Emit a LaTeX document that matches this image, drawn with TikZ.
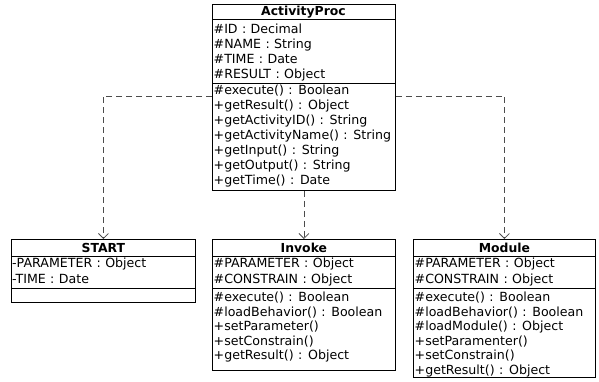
\documentclass[tikz,border=0pt]{standalone}
\usepackage{fontspec}
\setmainfont{DejaVu Sans}[WordSpace=1.1]
\usetikzlibrary{arrows.meta}
\begin{document}
\begin{tikzpicture}[x=1pt,y=-1pt,
  classbox/.style={draw, line width=0.8pt, inner sep=0pt, anchor=north west},
  sep/.style={line width=0.8pt},
  member/.style={anchor=base west, inner sep=0pt, font=\fontsize{12.6}{13}\selectfont},
  ctitle/.style={anchor=base, inner sep=0pt, font=\bfseries\fontsize{12.4}{13}\selectfont},
  dep/.style={draw=black!70, line width=0.8pt, dash pattern=on 6pt off 4pt,
              -{Straight Barb[length=5pt,width=10pt,line width=0.8pt]}}
]
\useasboundingbox (0,0) rectangle (599,382);

% ---------- ActivityProc ----------
\node[classbox, minimum width=183pt, minimum height=186pt] (ap) at (212,4) {};
\draw[sep] (ap.west |- 0,19) -- (ap.east |- 0,19);
\draw[sep] (ap.west |- 0,83) -- (ap.east |- 0,83);
\node[ctitle] (apT) at (303.5,16) {ActivityProc};
\foreach \t [count=\i] in {\#ID : Decimal, \#NAME : String, \#TIME : Date, \#RESULT : Object}
  \node[member] (apA\i) at (213.5,{18.5+15*\i}) {\t};
\foreach \t [count=\i] in {\#execute() : Boolean, +getResult() : Object, +getActivityID() : String,
    +getActivityName() : String, +getInput() : String, +getOutput() : String, +getTime() : Date}
  \node[member] (apM\i) at (213.5,{79.5+15*\i}) {\t};

% ---------- START ----------
\node[classbox, minimum width=184pt, minimum height=63pt] (st) at (11,239) {};
\draw[sep] (st.west |- 0,256) -- (st.east |- 0,256);
\draw[sep] (st.west |- 0,288) -- (st.east |- 0,288);
\node[ctitle] (stT) at (st.north |- 0,252.5) {START};
\node[member] (stA1) at (12,267.5) {-PARAMETER : Object};
\node[member] (stA2) at (12,283.5) {-TIME : Date};

% ---------- Invoke ----------
\node[classbox, minimum width=183pt, minimum height=131pt] (inv) at (212,239) {};
\draw[sep] (inv.west |- 0,256) -- (inv.east |- 0,256);
\draw[sep] (inv.west |- 0,288) -- (inv.east |- 0,288);
\node[ctitle] (invT) at (inv.north |- 0,252.5) {Invoke};
\node[member] (invA1) at (213.5,267.5) {\#PARAMETER : Object};
\node[member] (invA2) at (213.5,283.5) {\#CONSTRAIN : Object};
\foreach \t [count=\i] in {\#execute() : Boolean, \#loadBehavior() : Boolean, +setParameter(),
    +setConstrain(), +getResult() : Object}
  \node[member] (invM\i) at (213.5,{287+14.5*\i}) {\t};

% ---------- Module ----------
\node[classbox, minimum width=182pt, minimum height=138pt] (mod) at (413,239) {};
\draw[sep] (mod.west |- 0,256) -- (mod.east |- 0,256);
\draw[sep] (mod.west |- 0,288) -- (mod.east |- 0,288);
\node[ctitle] (modT) at (mod.north |- 0,252.5) {Module};
\node[member] (modA1) at (414.5,267.5) {\#PARAMETER : Object};
\node[member] (modA2) at (414.5,283.5) {\#CONSTRAIN : Object};
\foreach \t [count=\i] in {\#execute() : Boolean, \#loadBehavior() : Boolean, \#loadModule() : Object,
    +setParamenter(), +setConstrain(), +getResult() : Object}
  \node[member] (modM\i) at (414.5,{286.9+14.6*\i}) {\t};

% ---------- dependencies ----------
\coordinate (bend) at (0,96);
\draw[dep] (ap.west |- bend) -| (st.north);
\draw[dep] (ap.east |- bend) -| (mod.north);
\draw[dep] (ap.south) -- (inv.north);
\end{tikzpicture}
\end{document}
